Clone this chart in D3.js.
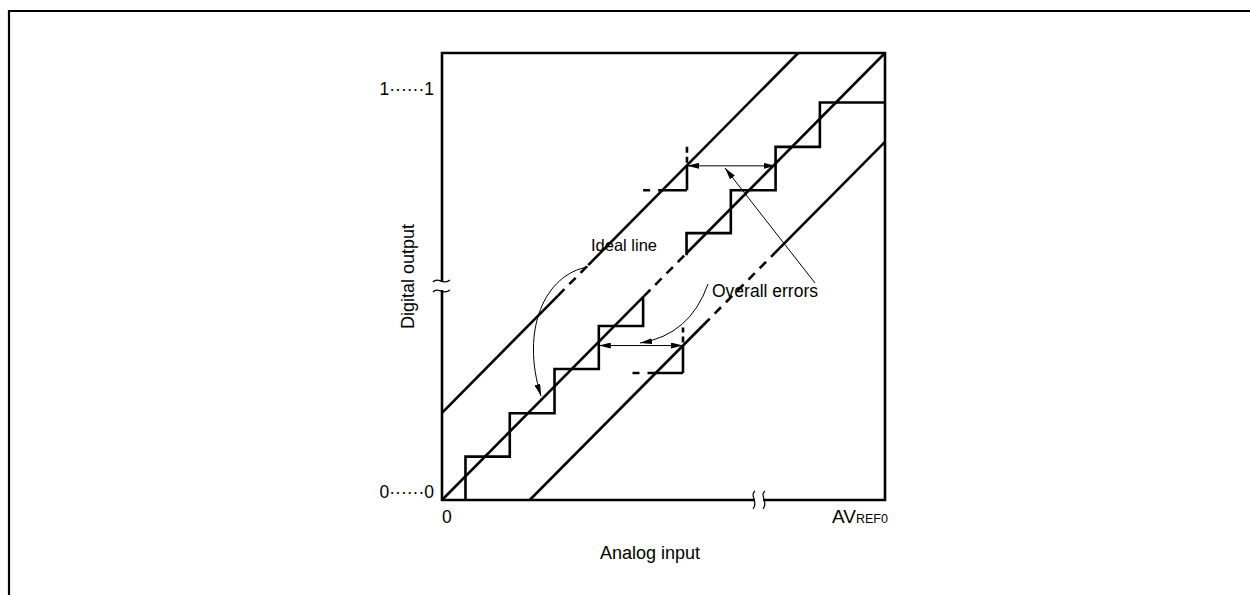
<!DOCTYPE html>
<html><head><meta charset="utf-8">
<script src="https://cdn.jsdelivr.net/npm/d3@7"></script>
<style>html,body{margin:0;padding:0;background:#fff;} svg{display:block;}</style>
</head><body>
<script>
// ---- data (units: LSB of analog input / digital code) ----
const xDomain = [0, 10];
const yDomain = [0, 10.1];
const idealLine = [[0, 0], [10, 10.1]];
const upperLine = [[0, 1.97], [8.04, 10.1]];
const lowerLine = [[1.98, 0], [10, 8.09]];
// dashed part of each line, as x intervals
const idealDash = [4.56, 5.52];
const upperDash = [2.62, 3.3];
const lowerDash = [5.9, 7.52];
const lowerStairs = [[0.53,0],[0.53,0.98],[1.53,0.98],[1.53,1.96],[2.54,1.96],[2.54,2.96],[3.54,2.96],[3.54,3.93],[4.54,3.93],[4.54,4.56]];
const upperStairs = [[5.52,5.53],[5.52,6.03],[6.52,6.03],[6.52,7.0],[7.53,7.0],[7.53,7.98],[8.53,7.98],[8.53,8.98],[10,8.98]];
const upperBoundH = [[4.54,7.0],[5.53,7.0]];
const upperBoundV = [[5.53,7.0],[5.53,7.55]];
const upperBoundTick = [[5.53,7.55],[5.53,8.0]];
const lowerBoundH = [[4.3,2.87],[5.44,2.87]];
const lowerBoundV = [[5.44,2.87],[5.44,3.49]];
const lowerBoundTick = [[5.44,3.49],[5.44,3.9]];
const errArrowUpper = [[5.53,7.55],[7.53,7.55]];
const errArrowLower = [[3.54,3.49],[5.44,3.49]];
const yTickLabels = [{v: 9.3, t: "1\u00b7\u00b7\u00b7\u00b7\u00b7\u00b71"}, {v: 0.18, t: "0\u00b7\u00b7\u00b7\u00b7\u00b7\u00b70"}];
const xTickLabels = ["0", "AV", "REF0"];
const xTitle = "Analog input";
const yTitle = "Digital output";
const notes = {ideal: "Ideal line", errors: "Overall errors"};

const W = 1250, H = 595;
const x = d3.scaleLinear(xDomain, [442, 885]);
const y = d3.scaleLinear(yDomain, [500, 53]);
const FONT = "'Liberation Sans', Arial, Helvetica, sans-serif";

const svg = d3.select("body").append("svg").attr("width", W).attr("height", H);

// outer page frame (left and top only)
svg.append("path").attr("d", `M9,${H} L9,11 L${W},11`).attr("fill","none").attr("stroke","#000").attr("stroke-width",2.2);

const defs = svg.append("defs");
defs.append("marker").attr("id","ah").attr("viewBox","0 0 12 6").attr("refX",12).attr("refY",3)
  .attr("markerWidth",12).attr("markerHeight",6).attr("markerUnits","userSpaceOnUse")
  .attr("orient","auto-start-reverse")
  .append("path").attr("d","M0,0 L12,3 L0,6 Z").attr("fill","#000");

const line = d3.line().x(d => x(d[0])).y(d => y(d[1]));
const g = svg.append("g");

// plot box with axis breaks
const [x0, x1] = x.range(), [y0, y1] = y.range();
const brkY = 286, brkX = 759;
const box = g.append("g").attr("fill","none").attr("stroke","#000").attr("stroke-width",2.6);
box.append("path").attr("d", `M${x0},${brkY-4} L${x0},${y1} L${x1},${y1} L${x1},${y0} L${brkX+4},${y0}`);
box.append("path").attr("d", `M${brkX-4},${y0} L${x0},${y0} L${x0},${brkY+4}`);
// break marks
const brk = g.append("g").attr("fill","none").attr("stroke","#000").attr("stroke-width",1.2);
[-5, 5].forEach(o => {
  brk.append("path").attr("d", `M${x0-9},${brkY+o+1} C${x0-4},${brkY+o-5} ${x0+1},${brkY+o+5} ${x0+8},${brkY+o-1}`);
  brk.append("path").attr("d", `M${brkX+o+1},${y0-9} C${brkX+o-5},${y0-4} ${brkX+o+5},${y0+1} ${brkX+o-1},${y0+9}`);
});

function clipX(pts, a, b) {
  const [p, q] = pts, f = t => [t, p[1] + (q[1]-p[1])*(t-p[0])/(q[0]-p[0])];
  return [f(Math.max(a, p[0])), f(Math.min(b, q[0]))];
}
function drawLine(pts, dash) {
  const s = g.append("g").attr("fill","none").attr("stroke","#000").attr("stroke-width",2.6);
  s.append("path").attr("d", line(clipX(pts, pts[0][0], dash[0])));
  s.append("path").attr("d", line(clipX(pts, dash[0], dash[1]))).attr("stroke-dasharray","9,7");
  s.append("path").attr("d", line(clipX(pts, dash[1], pts[1][0])));
}
drawLine(idealLine, idealDash);
drawLine(upperLine, upperDash);
drawLine(lowerLine, lowerDash);

const thick = g.append("g").attr("fill","none").attr("stroke","#000").attr("stroke-width",2.6);
thick.append("path").attr("d", line(lowerStairs)).attr("stroke-linejoin","miter");
thick.append("path").attr("d", line(upperStairs)).attr("stroke-linejoin","miter");
thick.append("path").attr("d", line(upperBoundH)).attr("stroke-dasharray","7,8,200");
thick.append("path").attr("d", line(upperBoundV));
thick.append("path").attr("d", line(upperBoundTick)).attr("stroke-dasharray","0,3,6,4,6,30");
thick.append("path").attr("d", line(lowerBoundH)).attr("stroke-dasharray","7,8,200");
thick.append("path").attr("d", line(lowerBoundV));
thick.append("path").attr("d", line(lowerBoundTick)).attr("stroke-dasharray","0,3,6,4,6,30");

// error arrows
const thin = g.append("g").attr("fill","none").attr("stroke","#000").attr("stroke-width",1);
[errArrowUpper, errArrowLower].forEach(a => {
  thin.append("path").attr("d", line(a)).attr("marker-start","url(#ah)").attr("marker-end","url(#ah)");
});

// annotation texts and leaders
const txt = svg.append("g").attr("font-family", FONT).attr("fill","#000");
txt.append("text").attr("x", 624).attr("y", 251).attr("text-anchor","middle").attr("font-size",16.5).text(notes.ideal);
thin.append("path").attr("d", "M588,267 C545,274 520,330 541,396").attr("marker-end","url(#ah)");
txt.append("text").attr("x", 765).attr("y", 297).attr("text-anchor","middle").attr("font-size",17.5).text(notes.errors);
thin.append("path").attr("d", "M815,283 L725,168").attr("marker-end","url(#ah)");
thin.append("path").attr("d", "M708,284 Q690,335 640,343").attr("marker-end","url(#ah)");

// axis labels
yTickLabels.forEach(d => {
  txt.append("text").attr("x", 434).attr("y", y(d.v)).attr("dy","0.36em").attr("text-anchor","end").attr("font-size",17.5).text(d.t);
});
txt.append("text").attr("x", x(0)).attr("y", 523).attr("font-size",17.5).text(xTickLabels[0]);
const av = txt.append("text").attr("x", x(10) - 53).attr("y", 523).attr("font-size",19);
av.append("tspan").text(xTickLabels[1]);
av.append("tspan").attr("font-size",12.5).text(xTickLabels[2]);
txt.append("text").attr("x", 650).attr("y", 559).attr("text-anchor","middle").attr("font-size",18).text(xTitle);
txt.append("text").attr("transform", `translate(414,${(y0+y1)/2}) rotate(-90)`).attr("text-anchor","middle").attr("font-size",18).text(yTitle);
</script>
</body></html>
